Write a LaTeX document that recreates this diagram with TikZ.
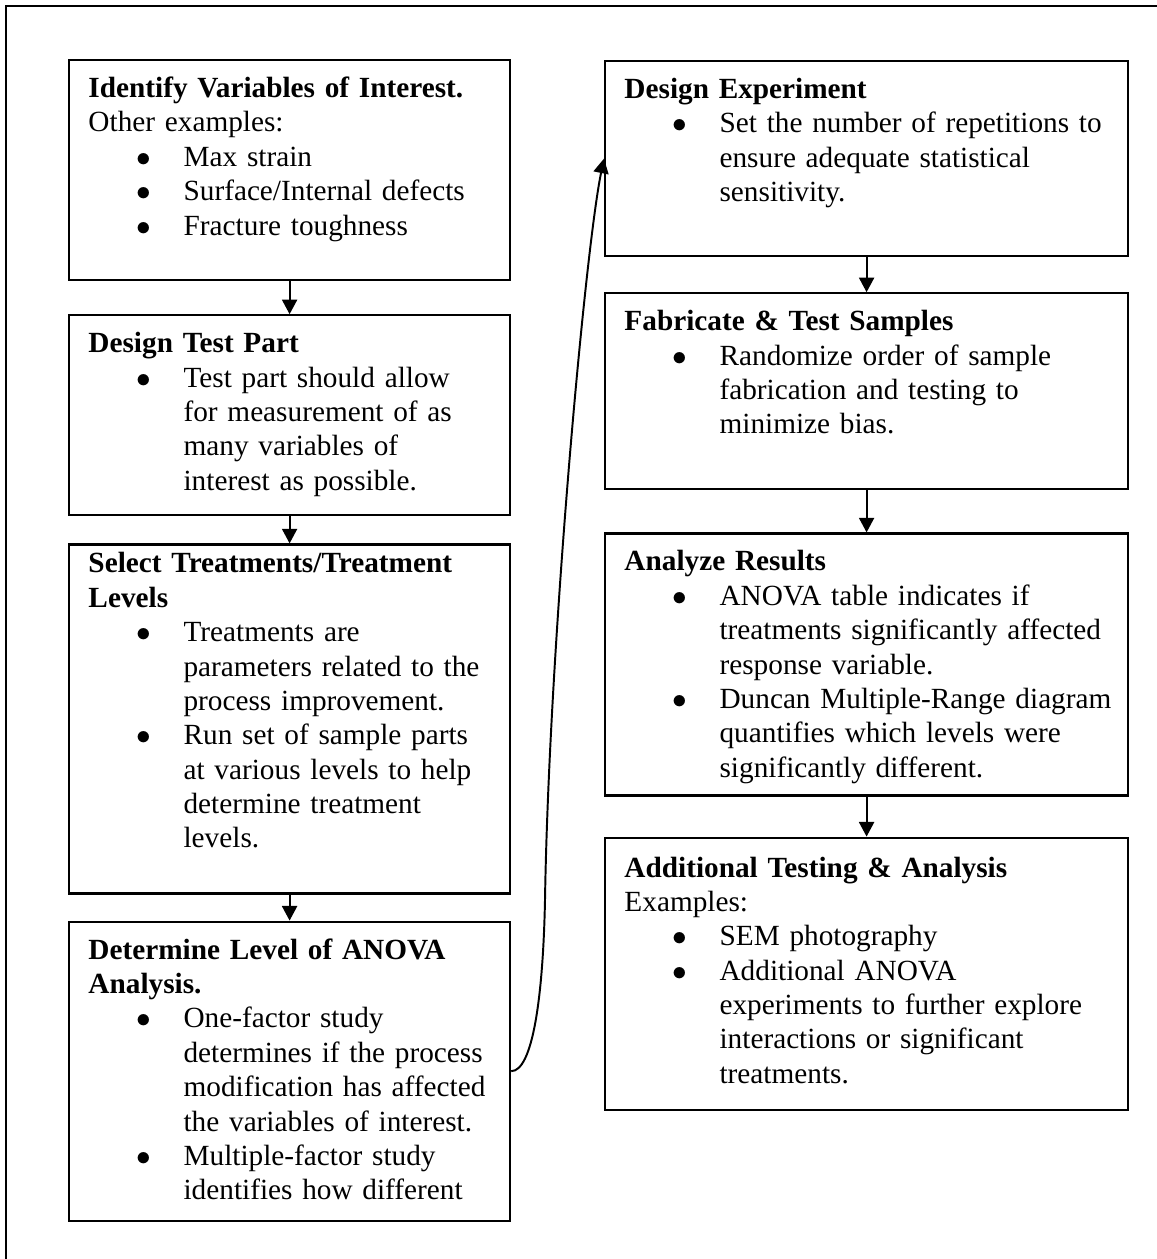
\documentclass[tikz,border=0pt]{standalone}
\usepackage{fontspec}
\setmainfont{Liberation Serif}
\usetikzlibrary{arrows.meta}
\usetikzlibrary{positioning}

% bullet list used inside the boxes
\newenvironment{blist}{\begin{list}{$\bullet$}{%
	\setlength{\leftmargin}{39pt}\setlength{\labelwidth}{10pt}%
	\setlength{\labelsep}{13.5pt}\setlength{\itemsep}{0pt}%
	\setlength{\parsep}{0pt}\setlength{\topsep}{0pt}%
	\setlength{\partopsep}{0pt}}}{\end{list}}

\begin{document}
\begin{tikzpicture}[x=0.41pt,y=0.41pt,
	stage/.style={draw,line width=0.9pt,anchor=north west,inner sep=0pt},
	leftstage/.style={stage,minimum width=180.81pt},
	rightstage/.style={stage,minimum width=214.43pt},
	words/.style={anchor=north west,inner xsep=8.2pt,inner ysep=5.7pt,align=left,
		font=\fontsize{12}{14.1}\selectfont},
	flow/.style={line width=0.8pt,-{Triangle[length=6pt,width=6.2pt]}}]

	\useasboundingbox (0,0) rectangle (1157,-1259);
	\fill[white] (0,0) rectangle (1157,-1259);
	\draw[line width=0.8pt] (1157,-6) -- (6,-6) -- (6,-1259);

	% left column
	\node[leftstage,minimum height=90.2pt] (b1) at (68,-59) {};
	\node[leftstage,minimum height=82pt,below=13.53pt of b1] (b2) {};
	\node[leftstage,minimum height=143.09pt,below=11.07pt of b2] (b3) {};
	\node[leftstage,minimum height=122.59pt,below=10.66pt of b3] (b4) {};

	% right column
	\node[rightstage,minimum height=79.95pt] (r1) at (604,-60) {};
	\node[rightstage,minimum height=80.36pt,below=14.35pt of r1] (r2) {};
	\node[rightstage,minimum height=107.42pt,below=17.22pt of r2] (r3) {};
	\node[rightstage,minimum height=111.52pt,below=16.4pt of r3] (r4) {};

	\node[words,text width=172pt] (t1) at (b1.north west) {\strut\textbf{Identify Variables of Interest.}\par
		Other examples:
		\begin{blist}
			\item Max strain
			\item Surface/Internal defects
			\item Fracture toughness
		\end{blist}};
	\node[words,text width=172pt] (t2) at (b2.north west) {\strut\textbf{Design Test Part}
		\begin{blist}
			\item Test part should allow\\ for measurement of as\\ many variables of\\ interest as possible.
		\end{blist}};
	\node[words,text width=172pt,inner ysep=2pt] (t3) at (b3.north west) {\strut\textbf{Select Treatments/Treatment\\ Levels}
		\begin{blist}
			\item Treatments are\\ parameters related to the\\ process improvement.
			\item Run set of sample parts\\ at various levels to help\\ determine treatment\\ levels.
		\end{blist}};
	\node[words,text width=172pt] (t4) at (b4.north west) {\strut\textbf{Determine Level of ANOVA\\ Analysis.}
		\begin{blist}
			\item One-factor study\\ determines if the process\\ modification has affected\\ the variables of interest.
			\item Multiple-factor study\\ identifies how different
		\end{blist}};

	\node[words,text width=205pt] (u1) at (r1.north west) {\strut\textbf{Design Experiment}
		\begin{blist}
			\item Set the number of repetitions to\\ ensure adequate statistical\\ sensitivity.
		\end{blist}};
	\node[words,text width=205pt] (u2) at (r2.north west) {\strut\textbf{Fabricate \& Test Samples}
		\begin{blist}
			\item Randomize order of sample\\ fabrication and testing to\\ minimize bias.
		\end{blist}};
	\node[words,text width=205pt] (u3) at (r3.north west) {\strut\textbf{Analyze Results}
		\begin{blist}
			\item ANOVA table indicates if\\ treatments significantly affected\\ response variable.
			\item Duncan Multiple-Range diagram\\ quantifies which levels were\\ significantly different.
		\end{blist}};
	\node[words,text width=205pt,inner ysep=6.5pt] (u4) at (r4.north west) {\strut\textbf{Additional Testing \& Analysis}\par
		Examples:
		\begin{blist}
			\item SEM photography
			\item Additional ANOVA\\ experiments to further explore\\ interactions or significant\\ treatments.
		\end{blist}};

	\path[flow] (b1) edge (b2)
		(b2) edge (b3)
		(b3) edge (b4)
		(r1) edge (r2)
		(r2) edge (r3)
		(r3) edge (r4);

	\coordinate (kink) at (545,-900);
	\draw[flow] (b4.east) .. controls +(21,0) and +(-2,-100) .. (kink)
		.. controls +(4,250) and +(-19,-92) .. (r1.west);
\end{tikzpicture}
\end{document}
